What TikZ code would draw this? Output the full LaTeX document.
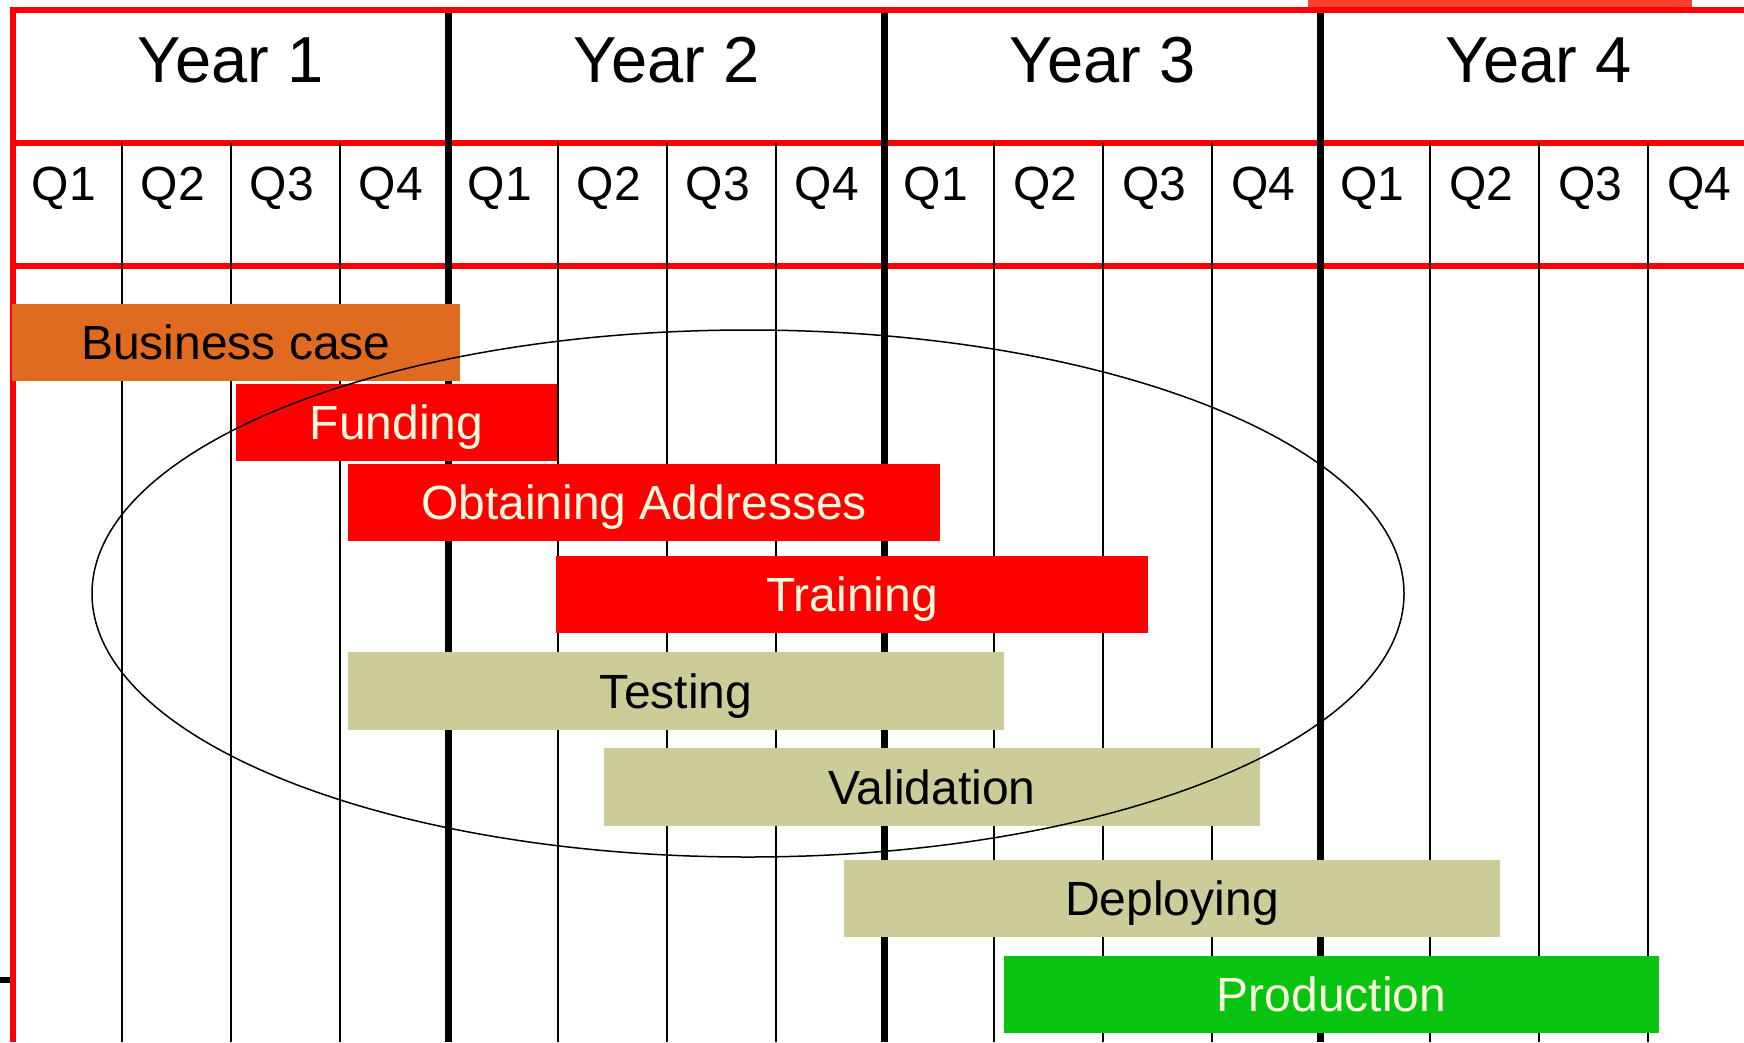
\documentclass[tikz,border=0pt]{standalone}
\usepackage{fontspec}
\setmainfont{Liberation Sans}
\definecolor{barorange}{HTML}{E06A20}
\definecolor{barred}{HTML}{FF0000}
\definecolor{barkhaki}{HTML}{CCCC99}
\definecolor{bargreen}{HTML}{08C410}
\definecolor{cream}{HTML}{FFFBE0}
\definecolor{topred}{HTML}{FF4030}
\tikzset{
  gridred/.style={draw=red, line width=6pt},
  thinline/.style={draw=black, line width=2pt},
  thickline/.style={draw=black, line width=7pt},
  yearlabel/.style={anchor=base, inner sep=0pt, font=\fontsize{65}{78}\selectfont},
  qlabel/.style={anchor=base, inner sep=0pt, font=\fontsize{48}{58}\selectfont},
  bar/.style={inner sep=0pt, draw=none, text height=34pt, text depth=0pt,
    font=\fontsize{48}{58}\selectfont},
  ringstyle/.style={draw=black, line width=1.5pt}
}
\begin{document}
\begin{tikzpicture}[x=1pt,y=-1pt]
\useasboundingbox (0,0) rectangle (1744,1042);
\fill[white] (0,0) rectangle (1744,1042);
% top artifact bar
\fill[topred] (1308,0) rectangle (1692,7);
% red frame lines
\draw[gridred] (9.5,9.7) -- (1744,9.7);
\draw[gridred] (12.5,143) -- (1744,143);
\draw[gridred] (12.5,266) -- (1744,266);
\draw[gridred] (12.5,7) -- (12.5,1042);
% quarter lines
\foreach \k in {1,2,3,5,6,7,9,10,11,13,14,15}{
  \draw[thinline] ({12.5+109*\k},143) -- ({12.5+109*\k},1042);
}
% year lines
\foreach \k in {4,8,12}{
  \draw[thickline] ({12.5+109*\k},12.7) -- ({12.5+109*\k},1042);
}
% small tick on left
\fill[black] (0,977) rectangle (9.5,983);
% year labels
\foreach \i in {1,2,3,4}{
  \node[yearlabel] (year\i) at ({12.5+436*(\i-1)+218},82) {Year \i};
}
% quarter labels
\foreach \y in {0,1,2,3}{
  \foreach \q in {1,2,3,4}{
    \node[qlabel] (q\y\q) at ({12.5+436*\y+109*(\q-1)+51.5},200) {Q\q};
  }
}
% bars
\node[bar, fill=barorange, text=black, minimum width=448pt, minimum height=77pt] (bc) at (236,342.5) {Business case};
\node[bar, fill=barred, text=cream, minimum width=321pt, minimum height=77pt] (fund) at (396.5,422.5) {Funding};
\node[bar, fill=barred, text=cream, minimum width=592pt, minimum height=77pt] (addr) at (644,502.5) {Obtaining Addresses};
\node[bar, fill=barred, text=cream, minimum width=592pt, minimum height=77pt] (train) at (852,594.5) {Training};
\node[bar, fill=barkhaki, text=black, minimum width=656pt, minimum height=78pt] (test) at (676,691) {Testing};
\node[bar, fill=barkhaki, text=black, minimum width=656pt, minimum height=78pt] (valid) at (932,787) {Validation};
\node[bar, fill=barkhaki, text=black, minimum width=656pt, minimum height=77pt] (deploy) at (1172,898.5) {Deploying};
\node[bar, fill=bargreen, text=cream, minimum width=655pt, minimum height=77pt] (prod) at (1331.5,994.5) {Production};
% ellipse
\draw[ringstyle] (748,593.5) ellipse [x radius=656pt, y radius=263.5pt];
\end{tikzpicture}
\end{document}
